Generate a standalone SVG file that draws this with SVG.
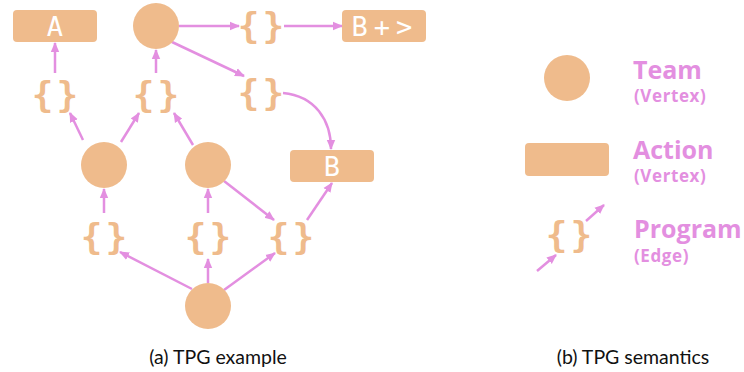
<svg xmlns="http://www.w3.org/2000/svg" width="744" height="372" viewBox="0 0 744 372">
<style>
.team{fill:#efbb8c}
.act{fill:#efbb8c}
.lbl{font-family:"DejaVu Sans Mono",monospace;font-size:27px;fill:#ffffff;text-anchor:middle}
.br{font-family:"DejaVu Sans Mono",monospace;font-weight:bold;font-size:36px;fill:#efbb8c;text-anchor:middle;letter-spacing:3px}
.e{stroke:#e38fe0;stroke-width:2.5;fill:none;marker-end:url(#ah)}
.lg{font-family:"Open Sans",sans-serif;font-weight:bold;fill:#e38fe0}
.sub{font-size:17px;letter-spacing:0.6px}
.cap{font-family:"Lato",sans-serif;font-size:19.5px;fill:#111111;text-anchor:middle}
</style>
<defs>
<marker id="ah" markerUnits="userSpaceOnUse" markerWidth="10" markerHeight="10" viewBox="0 0 10 10" refX="9" refY="5" orient="auto">
<path d="M0,0.8 L10,5 L0,9.2 Z" fill="#e38fe0"/>
</marker>
</defs>
<rect width="744" height="372" fill="#ffffff"/>
<g id="connectors">
<line class="e" x1="179" y1="26" x2="239" y2="26"/>
<line class="e" x1="284" y1="26" x2="342" y2="26"/>
<line class="e" x1="55" y1="73" x2="55" y2="43"/>
<line class="e" x1="156" y1="73" x2="156" y2="50"/>
<line class="e" x1="172" y1="42" x2="244" y2="76"/>
<path class="e" d="M283,93 C315,96 331,120 331,149"/>
<line class="e" x1="83" y1="140" x2="70" y2="113"/>
<line class="e" x1="121" y1="142" x2="139" y2="113"/>
<line class="e" x1="193" y1="145" x2="174" y2="113"/>
<line class="e" x1="104" y1="213" x2="104" y2="189"/>
<line class="e" x1="208" y1="213" x2="208" y2="189"/>
<line class="e" x1="224" y1="181" x2="274" y2="220"/>
<line class="e" x1="307" y1="220" x2="332" y2="183"/>
<line class="e" x1="192" y1="289" x2="120" y2="252"/>
<line class="e" x1="208" y1="283" x2="208" y2="259"/>
<line class="e" x1="224" y1="290" x2="275" y2="253"/>
<line class="e" x1="537" y1="271" x2="556" y2="255"/>
<line class="e" x1="586" y1="221" x2="604" y2="205"/>
</g>
<g id="actionA"><rect class="act" x="13" y="10" width="84" height="32" rx="4"/><text class="lbl" x="55" y="36">A</text></g>
<g id="team1"><circle class="team" cx="156" cy="26" r="23"/></g>
<g id="prog1"><text class="br" x="262.5" y="38">{}</text></g>
<g id="actionBplus"><rect class="act" x="342" y="10" width="84" height="32" rx="4"/><text class="lbl" x="385" y="36" letter-spacing="6">B+&gt;</text></g>
<g id="prog2"><text class="br" x="56.5" y="107">{}</text></g>
<g id="prog3"><text class="br" x="157.5" y="107">{}</text></g>
<g id="prog4"><text class="br" x="262.5" y="105">{}</text></g>
<g id="team2"><circle class="team" cx="104" cy="165" r="23"/></g>
<g id="team3"><circle class="team" cx="208" cy="165" r="23"/></g>
<g id="actionB"><rect class="act" x="290" y="150" width="84" height="32" rx="4"/><text class="lbl" x="332" y="176">B</text></g>
<g id="prog5"><text class="br" x="105.5" y="249">{}</text></g>
<g id="prog6"><text class="br" x="209.5" y="249">{}</text></g>
<g id="prog7"><text class="br" x="292.5" y="249">{}</text></g>
<g id="team4"><circle class="team" cx="208" cy="306" r="23"/></g>
<g id="legendTeam"><circle class="team" cx="567" cy="78" r="23"/>
<text class="lg" x="633" y="79" font-size="25">Team</text>
<text class="lg sub" x="634" y="102">(Vertex)</text></g>
<g id="legendAction"><rect class="act" x="525" y="143" width="84" height="33" rx="4"/>
<text class="lg" x="633" y="159" font-size="25">Action</text>
<text class="lg sub" x="634" y="182">(Vertex)</text></g>
<g id="legendProgram"><text class="br" x="570.5" y="247">{}</text>
<text class="lg" x="634" y="238" font-size="25">Program</text>
<text class="lg sub" x="634" y="262">(Edge)</text></g>
<text class="cap" x="218" y="364">(a) TPG example</text>
<text class="cap" x="633" y="364">(b) TPG semantics</text>
</svg>
